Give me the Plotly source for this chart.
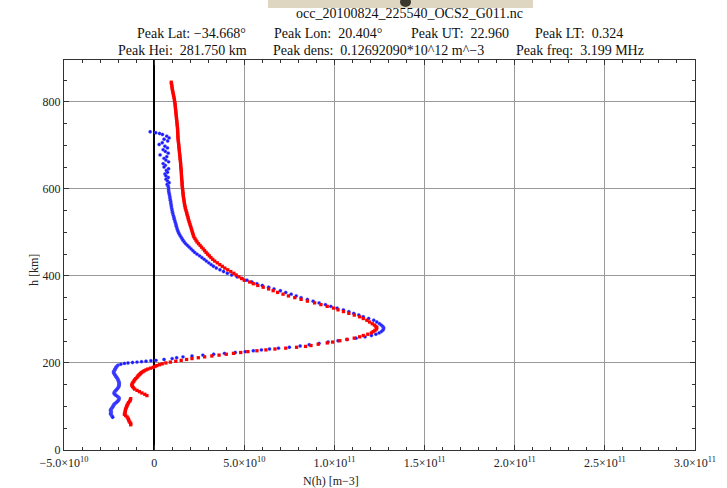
import plotly.graph_objects as go

# ---- data (N in units of 1e10 m^-3, h in km) ----
red_h = [845, 842, 838, 834, 830, 826, 822, 818, 814, 810,
         806, 802, 798, 794, 790, 786, 782, 778, 774, 770,
         766, 762, 758, 754, 750, 746, 742, 738, 734, 730,
         726, 722, 718, 714, 710, 706, 702, 698, 694, 690,
         686, 682, 678, 674, 670, 666, 662, 658, 654, 650,
         646, 642, 638, 634, 630, 626, 622, 618, 614, 610,
         606, 602, 598, 594, 590, 586, 582, 578, 574, 570,
         566, 562, 558, 554, 550, 546, 542, 538, 534, 530,
         526, 522, 518, 514, 510, 506, 502, 498, 494, 490,
         486, 482, 478, 474, 470, 466, 462, 458, 454, 450,
         446, 442, 438, 434, 430, 426, 422, 418, 414, 410,
         406, 402, 398, 394, 390, 386, 382, 378, 374, 370,
         366, 362, 358, 354, 350, 346, 342, 338, 334, 330,
         326, 322, 318, 314, 310, 306, 302, 298, 294, 290,
         287, 284, 281, 278, 275, 272, 269, 266, 263, 260,
         257, 254, 251, 248, 246, 243, 240, 238, 236, 234,
         232, 230, 228, 226, 224, 222, 220, 218, 216, 214,
         212, 210, 208, 206, 204, 202, 200, 198, 196, 194,
         192, 190, 188, 186, 184, 182, 180, 178, 176, 174,
         172, 170, 167, 164, 161, 158, 155, 152, 149, 146,
         143, 140, 137, 134, 131, 128, 125, 118, 115, 112,
         109, 106, 103, 100, 97, 94, 91, 88, 85, 82,
         79, 76, 73, 70, 67, 64, 61, 58]
red_n = [0.95, 0.96, 0.98, 0.99, 1.0, 1.02, 1.04, 1.06, 1.08, 1.1,
         1.12, 1.13, 1.15, 1.16, 1.17, 1.18, 1.19, 1.2, 1.21, 1.22,
         1.23, 1.24, 1.25, 1.26, 1.27, 1.28, 1.29, 1.3, 1.3, 1.31,
         1.31, 1.32, 1.32, 1.33, 1.34, 1.35, 1.36, 1.37, 1.38, 1.39,
         1.4, 1.41, 1.42, 1.43, 1.44, 1.45, 1.46, 1.47, 1.47, 1.48,
         1.49, 1.5, 1.51, 1.51, 1.52, 1.52, 1.53, 1.54, 1.55, 1.55,
         1.56, 1.57, 1.58, 1.59, 1.6, 1.61, 1.62, 1.64, 1.65, 1.67,
         1.68, 1.7, 1.72, 1.74, 1.77, 1.8, 1.82, 1.85, 1.88, 1.9,
         1.93, 1.96, 1.99, 2.02, 2.05, 2.08, 2.11, 2.14, 2.17, 2.2,
         2.26, 2.32, 2.38, 2.46, 2.55, 2.63, 2.72, 2.8, 2.88, 2.97,
         3.06, 3.15, 3.25, 3.36, 3.5, 3.64, 3.78, 3.92, 4.08, 4.25,
         4.42, 4.55, 4.7, 4.85, 5.0, 5.3, 5.5, 5.75, 6.05, 6.35,
         6.6, 6.85, 7.15, 7.45, 7.8, 8.15, 8.5, 8.9, 9.25, 9.6,
         9.95, 10.2, 10.5, 10.8, 11.1, 11.4, 11.6, 11.8, 11.95, 12.1,
         12.22, 12.3, 12.35, 12.33, 12.25, 12.15, 12.05, 11.85, 11.6, 11.4,
         11.1, 10.7, 10.3, 9.9, 9.6, 9.1, 8.7, 8.4, 7.9, 7.3,
         6.7, 6.2, 5.7, 5.2, 4.8, 4.4, 4.0, 3.6, 3.2, 2.8,
         2.45, 2.1, 1.8, 1.5, 1.2, 0.9, 0.65, 0.45, 0.3, 0.15,
         0.05, -0.05, -0.2, -0.35, -0.45, -0.55, -0.62, -0.7, -0.75, -0.8,
         -0.85, -0.9, -0.95, -1.02, -1.08, -1.13, -1.18, -1.22, -1.24, -1.2,
         -1.15, -1.08, -0.95, -0.82, -0.68, -0.52, -0.4, -1.3, -1.32, -1.36,
         -1.42, -1.45, -1.5, -1.52, -1.55, -1.58, -1.6, -1.6, -1.62, -1.65,
         -1.58, -1.5, -1.45, -1.42, -1.4, -1.35, -1.3, -1.3]

blue_h = [731, 729, 727, 725, 721, 717, 714, 710, 706, 702,
          698, 694, 690, 686, 682, 678, 674, 670, 666, 662,
          658, 654, 650, 646, 642, 638, 634, 630, 626, 622,
          618, 614, 610, 606, 602,
          598, 594, 590, 586, 582, 578, 574, 570, 566, 562,
          558, 554, 550, 546, 542, 538, 534, 530, 526, 522,
          518, 514, 510, 506, 502, 498, 494, 490, 486, 482,
          478, 474, 470, 466, 462, 458, 454, 450, 446, 442,
          438, 434, 430, 426, 422, 418, 414, 410, 406, 402,
          398, 394, 390, 386, 382, 378, 374, 370, 366, 362,
          358, 354, 350, 346, 342, 338, 334, 330, 326, 322,
          318, 314, 310, 306, 302, 298, 294, 290, 287, 284,
          281, 278, 275, 272, 269, 266, 263, 260, 257, 254,
          251, 248, 245, 242, 239, 236, 234, 232, 230, 228,
          226, 224, 222, 220, 218, 216, 214, 212, 210, 208,
          206, 205, 204, 203, 202, 201, 200, 199, 197, 195,
          193, 191, 189, 187, 185, 183, 181, 179, 177, 175,
          173, 171, 169, 167, 165, 163, 161, 159, 157, 155,
          153, 151, 149, 147, 145, 143, 141, 139, 137, 135,
          133, 131, 129, 127, 125, 123, 121, 119, 117, 115,
          113, 111, 109, 107, 105, 103, 101, 99, 97, 95,
          93, 91, 89, 87, 85, 83, 81, 79, 77, 75]
blue_n = [-0.22, 0.09, 0.3, 0.46, 0.7, 0.83, 0.55, 0.75, 0.45, 0.28,
          0.6, 0.74, 0.5, 0.62, 0.78, 0.33, 0.7, 0.55, 0.65, 0.8,
          0.5, 0.62, 0.55, 0.8, 0.68, 0.74, 0.6, 0.65, 0.78, 0.66,
          0.74, 0.83, 0.72, 0.78, 0.8,
          0.8, 0.81, 0.83, 0.85, 0.87, 0.88, 0.9, 0.92, 0.93, 0.95,
          0.96, 0.98, 1.0, 1.02, 1.04, 1.07, 1.1, 1.12, 1.15, 1.18,
          1.21, 1.23, 1.26, 1.29, 1.33, 1.37, 1.42, 1.48, 1.54, 1.6,
          1.67, 1.75, 1.85, 1.95, 2.05, 2.15, 2.25, 2.38, 2.52, 2.65,
          2.78, 2.9, 3.03, 3.16, 3.29, 3.45, 3.65, 3.85, 4.06, 4.3,
          4.6, 4.88, 5.15, 5.42, 5.7, 6.0, 6.35, 6.65, 7.0, 7.3,
          7.6, 7.88, 8.15, 8.5, 8.82, 9.15, 9.5, 9.8, 10.15, 10.5,
          10.8, 11.07, 11.35, 11.6, 11.9, 12.18, 12.35, 12.5, 12.6, 12.68,
          12.73, 12.72, 12.68, 12.6, 12.48, 12.3, 12.05, 11.7, 11.2, 10.7,
          10.2, 9.65, 9.15, 8.6, 8.1, 7.5, 6.9, 6.4, 5.95, 5.5,
          5.05, 4.5, 3.9, 3.3, 2.7, 2.1, 1.6, 1.25, 1.0, 0.55,
          0.1, -0.18, -0.45, -0.7, -0.95, -1.2, -1.45, -1.65, -1.85, -2.0,
          -2.05, -2.1, -2.12, -2.15, -2.18, -2.2, -2.23, -2.25, -2.24, -2.21,
          -2.18, -2.15, -2.12, -2.08, -2.05, -2.02, -2.0, -1.98, -1.96, -1.95,
          -1.94, -1.94, -1.95, -1.96, -1.97, -2.0, -2.04, -2.08, -2.12, -2.17,
          -2.2, -2.22, -2.21, -2.16, -2.1, -2.03, -1.97, -1.95, -1.95, -1.97,
          -2.0, -2.05, -2.1, -2.17, -2.22, -2.25, -2.27, -2.3, -2.33, -2.37,
          -2.4, -2.42, -2.4, -2.38, -2.4, -2.42, -2.38, -2.35, -2.32, -2.3]

x_tickvals = [-5e10, 0, 5e10, 1e11, 1.5e11, 2e11, 2.5e11, 3e11]
x_ticktext = ["\u22125.0\u00d710<sup>10</sup>", "0", "5.0\u00d710<sup>10</sup>",
              "1.0\u00d710<sup>11</sup>", "1.5\u00d710<sup>11</sup>", "2.0\u00d710<sup>11</sup>",
              "2.5\u00d710<sup>11</sup>", "3.0\u00d710<sup>11</sup>"]
y_tickvals = [0, 200, 400, 600, 800]

title_line1 = "occ_20100824_225540_OCS2_G011.nc"
line2 = ["Peak Lat: \u221234.668\u00b0", "Peak Lon:  20.404\u00b0", "Peak UT:  22.960", "Peak LT:  0.324"]
line3 = ["Peak Hei:  281.750 km", "Peak dens:  0.12692090*10^12 m^\u22123", "Peak freq:  3.199 MHz"]

assert len(red_h) == len(red_n) and len(blue_h) == len(blue_n)

FONT = "Liberation Serif"
W, H = 727, 488
L, R, T, B = 64, 32, 60, 38
pw, ph = W - L - R, H - T - B


def px(x):
    return (x - L) / pw


def py(y):
    return (H - B - y) / ph


fig = go.Figure()
fig.add_trace(go.Scatter(x=[v * 1e10 for v in blue_n], y=blue_h, mode="markers",
                         marker=dict(color="rgb(25,25,255)", size=3.4,
                                     line=dict(width=0.6, color="rgba(130,130,255,0.55)")),
                         showlegend=False))
fig.add_trace(go.Scatter(x=[v * 1e10 for v in red_n], y=red_h, mode="markers",
                         marker=dict(color="rgb(255,0,0)", size=3.3, symbol="square", line=dict(width=0)),
                         showlegend=False))

axis_common = dict(showline=True, linecolor="#333", linewidth=1, mirror="allticks",
                   ticks="inside", ticklen=5, tickcolor="#333", tickwidth=1,
                   showgrid=True, gridcolor="#999", gridwidth=1,
                   tickfont=dict(family=FONT, size=12, color="#222"))

fig.update_xaxes(range=[-5e10, 3e11], tickvals=x_tickvals, ticktext=x_ticktext,
                 zeroline=True, zerolinecolor="#000", zerolinewidth=1.5, ticklabelstandoff=2,
                 minor=dict(dtick=1e10, tick0=0, ticks="inside", ticklen=3, tickcolor="#333", showgrid=False),
                 **axis_common)
fig.update_yaxes(range=[0, 896], tickvals=y_tickvals, zeroline=False,
                 minor=dict(dtick=50, tick0=0, ticks="inside", ticklen=3, tickcolor="#333", showgrid=False),
                 **axis_common)

ann = []
ann.append(dict(x=px(409), y=py(14), text=title_line1, xanchor="center", yanchor="middle",
                font=dict(family=FONT, size=14, color="#111")))
for xpos, t in zip([135, 272, 409, 533], line2):
    ann.append(dict(x=px(xpos), y=py(33), text=t, xanchor="left", yanchor="middle",
                    font=dict(family=FONT, size=14, color="#111")))
for xpos, t in zip([116, 271, 514], line3):
    ann.append(dict(x=px(xpos), y=py(50), text=t, xanchor="left", yanchor="middle",
                    font=dict(family=FONT, size=14, color="#111")))
ann.append(dict(x=px(331), y=py(481), text="N(h) [m\u22123]", xanchor="center", yanchor="middle",
                font=dict(family=FONT, size=12, color="#222")))
ann.append(dict(x=px(34), y=py(270), text="h [km]", textangle=-90, xanchor="center", yanchor="middle",
                font=dict(family=FONT, size=12, color="#222")))
for a in ann:
    a.update(xref="paper", yref="paper", showarrow=False)

shapes = [
    dict(type="rect", xref="paper", yref="paper", x0=px(268), x1=px(533), y0=py(8), y1=py(-2),
         fillcolor="rgb(222,214,192)", line=dict(width=0), layer="below"),
    dict(type="circle", xref="paper", yref="paper", x0=px(400), x1=px(411), y0=py(7), y1=py(-3),
         fillcolor="rgb(60,55,45)", line=dict(width=0)),
]

fig.update_layout(width=W, height=H, margin=dict(l=L, r=R, t=T, b=B),
                  paper_bgcolor="white", plot_bgcolor="white",
                  annotations=ann, shapes=shapes, showlegend=False)

fig.write_html("out.html")
